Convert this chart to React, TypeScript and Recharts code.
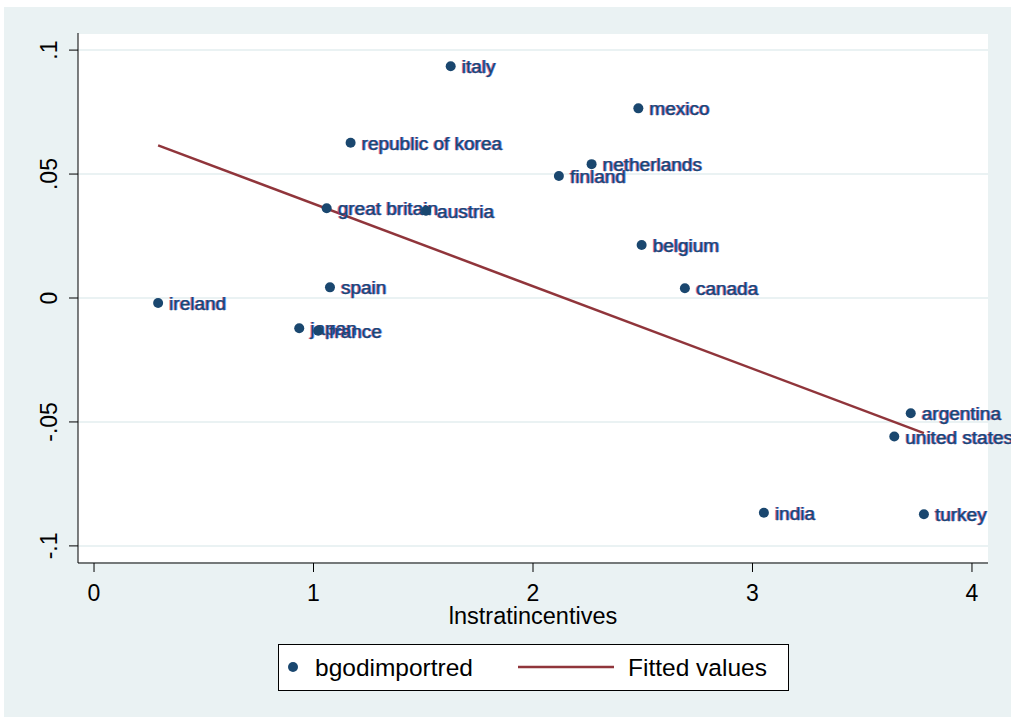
import React from "react";
import { ScatterChart, Scatter, XAxis, YAxis, CartesianGrid, Legend } from "recharts";

const FONT = "Arial, 'Liberation Sans', sans-serif";
const NAVY = "#1A476F";
const MAROON = "#90353B";
const BLUISH_GRAY = "#EAF2F3";

// country-level observations
const countries = [
  "ireland",
  "japan",
  "france",
  "spain",
  "great britain",
  "austria",
  "republic of korea",
  "italy",
  "netherlands",
  "finland",
  "mexico",
  "belgium",
  "canada",
  "india",
  "united states",
  "argentina",
  "turkey",
];
const lnstratincentives = [
  0.292, 0.935, 1.021, 1.075, 1.06, 1.513, 1.169, 1.625, 2.267, 2.118, 2.48, 2.495, 2.692, 3.052,
  3.646, 3.721, 3.781,
];
const bgodimportred = [
  -0.002, -0.0122, -0.0132, 0.0043, 0.0362, 0.0352, 0.0626, 0.0935, 0.054, 0.0492, 0.0765, 0.0214,
  0.0039, -0.0866, -0.0559, -0.0465, -0.0872,
];

// linear fit, endpoints over the observed x range
const fittedX = [0.292, 3.781];
const fittedY = [0.0616, -0.0545];

const xTicks = [0, 1, 2, 3, 4];
const yTicks = [-0.1, -0.05, 0, 0.05, 0.1];

const points = countries.map((name, i) => ({ name, x: lnstratincentives[i], y: bgodimportred[i] }));
const fitted = fittedX.map((x, i) => ({ x, y: fittedY[i] }));

// Stata-style labels: ".05", "-.1", "0"
const fmtY = (v: number) => (v === 0 ? "0" : String(v).replace("0.", "."));

function CountryDot(props: any) {
  const { cx, cy, payload } = props;
  const tx = cx + 11;
  const ty = cy + 7;
  const textProps = { y: ty, fontSize: 19, fontFamily: FONT };
  return (
    <g>
      <circle cx={cx} cy={cy} r={5} fill={NAVY} />
      <text {...textProps} x={tx - 0.9} fill="#E0206A" opacity={0.6}>
        {payload.name}
      </text>
      <text {...textProps} x={tx + 0.9} fill="#2A6BFF" opacity={0.6}>
        {payload.name}
      </text>
      <text {...textProps} x={tx} fill={NAVY} stroke={NAVY} strokeWidth={0.25}>
        {payload.name}
      </text>
    </g>
  );
}

function YTick(props: any) {
  const { x, y, payload } = props;
  return (
    <text
      x={x}
      y={y}
      transform={`rotate(-90, ${x}, ${y})`}
      textAnchor="middle"
      fontSize={23}
      fontFamily={FONT}
      fill="#000"
    >
      {fmtY(payload.value)}
    </text>
  );
}

function LegendBox() {
  return (
    <svg width={1011} height={72} style={{ display: "block" }}>
      <rect x={278.5} y={15.5} width={510} height={46} fill="#fff" stroke="#000" strokeWidth={1} />
      <circle cx={293} cy={38} r={5} fill={NAVY} />
      <text x={315} y={47} fontSize={24.5} fontFamily={FONT} fill="#000">
        bgodimportred
      </text>
      <line x1={518} x2={614} y1={38} y2={38} stroke={MAROON} strokeWidth={2.5} />
      <text x={628} y={47} fontSize={24.5} fontFamily={FONT} fill="#000">
        Fitted values
      </text>
    </svg>
  );
}

export default function App() {
  return (
    <div style={{ position: "absolute", left: 0, top: 0, width: 1011, height: 717, background: "#fff" }}>
      <div
        style={{ position: "absolute", left: 4, top: 7, width: 1007, height: 710, background: BLUISH_GRAY }}
      />
      <div style={{ position: "absolute", left: 0, top: 0 }}>
        <ScatterChart width={1011} height={717} margin={{ top: 33, right: 23, left: 0, bottom: 16 }}>
          <CartesianGrid vertical={false} stroke={BLUISH_GRAY} strokeWidth={2} fill="#fff" />
          <XAxis
            type="number"
            dataKey="x"
            domain={[-0.073, 4.073]}
            ticks={xTicks}
            height={66}
            tickSize={9}
            tickMargin={13}
            stroke="#000"
            tick={{ fill: "#000", fontSize: 23, fontFamily: FONT }}
            label={{
              value: "lnstratincentives",
              position: "insideBottom",
              offset: 5,
              fill: "#000",
              fontSize: 23.5,
              fontFamily: FONT,
            }}
          />
          <YAxis
            type="number"
            dataKey="y"
            domain={[-0.1069, 0.1069]}
            ticks={yTicks}
            width={78}
            tickSize={9}
            tickMargin={12}
            stroke="#000"
            tick={<YTick />}
          />
          <Legend
            verticalAlign="bottom"
            wrapperStyle={{ left: 0, top: 629, width: 1011, height: 72 }}
            content={() => <LegendBox />}
          />
          <Scatter
            name="Fitted values"
            data={fitted}
            line={{ stroke: MAROON, strokeWidth: 2.5 }}
            shape={() => <g />}
            isAnimationActive={false}
          />
          <Scatter name="bgodimportred" data={points} shape={<CountryDot />} isAnimationActive={false} />
        </ScatterChart>
      </div>
    </div>
  );
}
